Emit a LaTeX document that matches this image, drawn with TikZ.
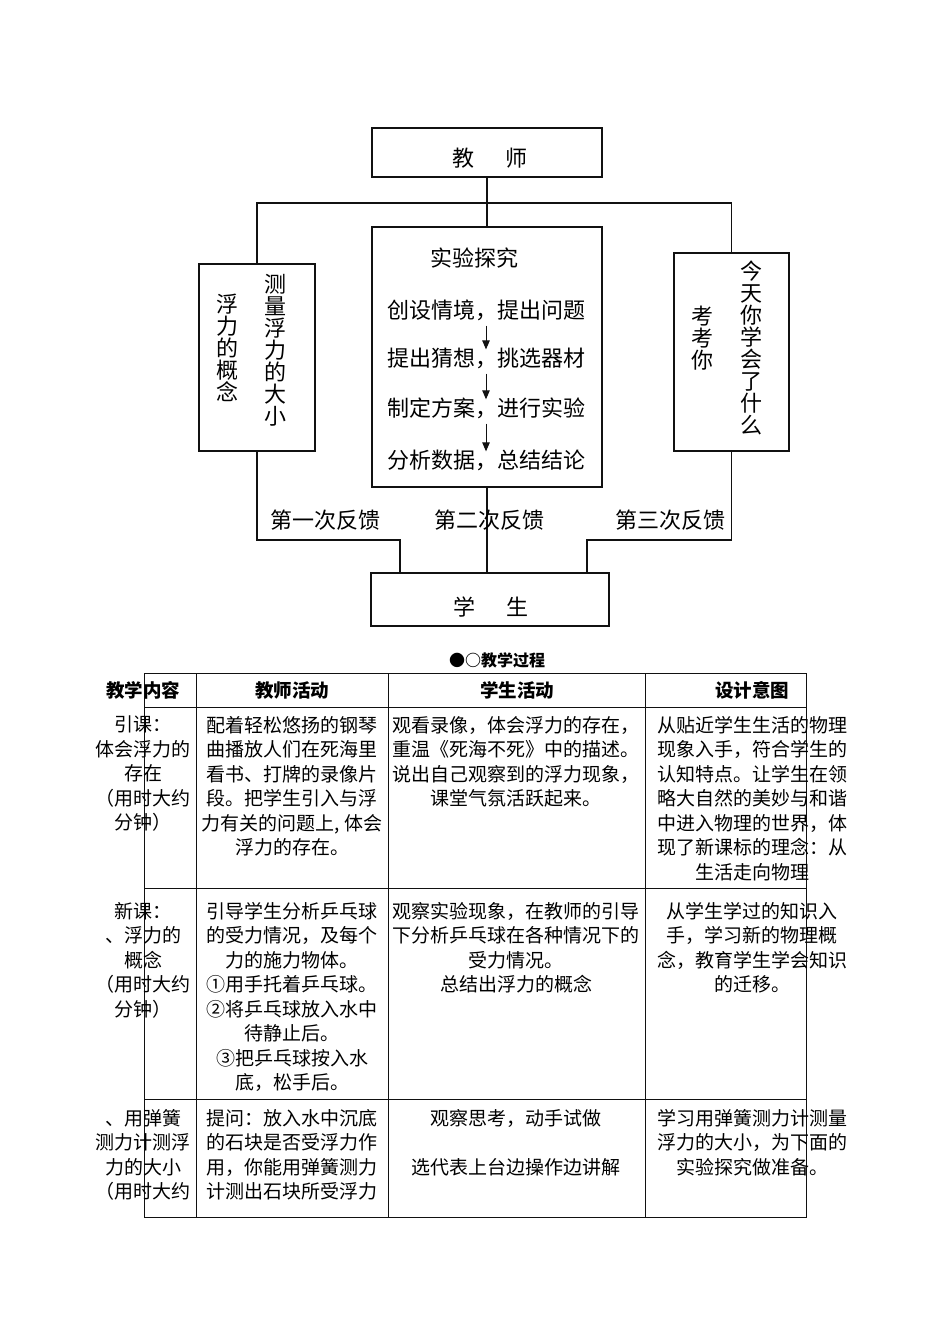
\documentclass[tikz,border=0pt]{standalone}
\usepackage{fontspec}
\usepackage{xcolor}
\usepackage{tikz}
\usetikzlibrary{arrows.meta,positioning,calc}
\newfontfamily\cjk{Noto Sans CJK SC}
\definecolor{inkline}{HTML}{111111}

\begin{document}
\begin{tikzpicture}[x=1pt, y=-1pt,
  every node/.style={font=\cjk\fontsize{22}{22}\selectfont, inner sep=0pt},
  blk/.style={draw=inkline, line width=1.1pt},
  vtxt/.style={align=center},
  link/.style={inkline, line width=1.1pt},
  arr/.style={-{Triangle[length=9pt,width=7.5pt]}, inkline, line width=1pt, shorten <=5pt, shorten >=-2pt},
  cell/.style={font=\cjk\fontsize{19}{24.5}\selectfont, align=center, anchor=north},
  hd/.style={font=\cjk\bfseries\fontsize{18.5}{20}\selectfont},
  tbl/.style={inkline, line width=1pt}]
\useasboundingbox (0,0) rectangle (950,1344);
\node[blk, minimum width=230, minimum height=49] (teacher) at (487,152.5) {};
\node (tlab) at (490,158) {教\hspace{31pt}师};
\node[blk, minimum width=230, minimum height=260] (inq) at (487,357) {};
\node[blk, minimum width=116, minimum height=187] (lbox) at (257,357.5) {};
\node[blk, minimum width=115, minimum height=198] (rbox) at (731.5,352) {};
\node[blk, minimum width=238, minimum height=53] (stu) at (490,599.5) {};
\node (slab) at (491,607) {学\hspace{31pt}生};
\node (ititle) at (474,258) {实验探究};
\node (s1) at (486,310) {创设情境，提出问题};
\node (s2) at (486,358) {提出猜想，挑选器材};
\node (s3) at (486,408) {制定方案，进行实验};
\node (s4) at (486,460) {分析数据，总结结论};
\draw[arr] (s1.south) -- (s2.north);
\draw[arr] (s2.south) -- (s3.north);
\draw[arr] (s3.south) -- (s4.north);
\node[vtxt] (lc1) at (227.5,348) {浮\\力\\的\\概\\念};
\node[vtxt] (lc2) at (275,350) {测\\量\\浮\\力\\的\\大\\小};
\node[vtxt] (rc1) at (702,338) {考\\考\\你};
\node[vtxt] (rc2) at (751,348) {今\\天\\你\\学\\会\\了\\什\\么};
\coordinate (jt) at (487,203);
\coordinate (fl) at (400,540);
\coordinate (fr) at (587,540);
\draw[link] (teacher) -- (inq);
\draw[link] (lbox.north) |- (jt) -| (rbox.north);
\draw[link] (lbox.south) |- (fl) -- (fl |- stu.north);
\draw[link] (rbox.south) |- (fr) -- (fr |- stu.north);
\draw[link] (inq.south) -- (inq.south |- stu.north);
\node (fb1) at (325,520) {第一次反馈};
\node (fb2) at (489,520) {第二次反馈};
\node (fb3) at (670,520) {第三次反馈};
\node[font=\cjk\bfseries\fontsize{16}{16}\selectfont] (ptitle) at (497,660) {●○教学过程};
\draw[tbl] (144,673) rectangle (806,1217);
\foreach \y in {707,888,1099} \draw[tbl] (144,\y) -- (806,\y);
\foreach \x in {196,388,645} \draw[tbl] (\x,673) -- (\x,1217);
\node[hd] (h1) at (143,690) {教学内容};
\node[hd] (h2) at (292,690) {教师活动};
\node[hd] (h3) at (517,690) {学生活动};
\node[hd] (h4) at (752,690) {设计意图};
\node[cell] (c11) at (143,716) {引课：\\体会浮力的\\存在\\（用时大约\\分钟）};
\node[cell] (c12) at (292,716) {配着轻松悠扬的钢琴\\曲播放人们在死海里\\看书、打牌的录像片\\段。把学生引入与浮\\力有关的问题上, 体会\\浮力的存在。};
\node[cell] (c13) at (516,716) {观看录像，体会浮力的存在，\\重温《死海不死》中的描述。\\说出自己观察到的浮力现象，\\课堂气氛活跃起来。};
\node[cell] (c14) at (752,716) {从贴近学生生活的物理\\现象入手，符合学生的\\认知特点。让学生在领\\略大自然的美妙与和谐\\中进入物理的世界，体\\现了新课标的理念：从\\生活走向物理};
\node[cell] (c21) at (143,902) {新课：\\、浮力的\\概念\\（用时大约\\分钟）};
\node[cell] (c22) at (292,902) {引导学生分析乒乓球\\的受力情况，及每个\\力的施力物体。\\①用手托着乒乓球。\\②将乒乓球放入水中\\待静止后。\\③把乒乓球按入水\\底，松手后。};
\node[cell] (c23) at (516,902) {观察实验现象，在教师的引导\\下分析乒乓球在各种情况下的\\受力情况。\\总结出浮力的概念};
\node[cell] (c24) at (752,902) {从学生学过的知识入\\手，学习新的物理概\\念，教育学生学会知识\\的迁移。};
\node[cell] (c31) at (143,1109) {、用弹簧\\测力计测浮\\力的大小\\（用时大约};
\node[cell] (c32) at (292,1109) {提问：放入水中沉底\\的石块是否受浮力作\\用，你能用弹簧测力\\计测出石块所受浮力};
\node[cell] (c33) at (516,1109) {观察思考，动手试做\\[24.5pt]选代表上台边操作边讲解};
\node[cell] (c34) at (752,1109) {学习用弹簧测力计测量\\浮力的大小，为下面的\\实验探究做准备。};
\end{tikzpicture}
\end{document}
